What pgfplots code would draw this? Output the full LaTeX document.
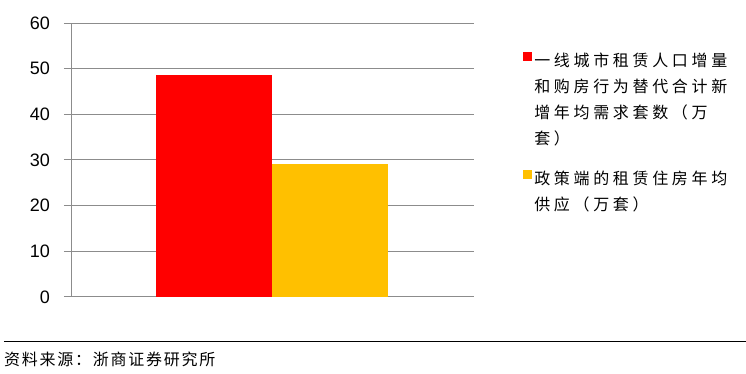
\documentclass[border=0pt]{standalone}
\usepackage{pgfplots}
\pgfplotsset{compat=1.18}
\usepackage{fontspec}
\setmainfont{Liberation Sans}
\newfontfamily\cjk{Noto Sans CJK SC}[LetterSpace=23]
\newfontfamily\cjksrc{Noto Sans CJK SC}[LetterSpace=11]
\definecolor{barred}{HTML}{FF0000}
\definecolor{baryel}{HTML}{FFC000}
\definecolor{gridgray}{HTML}{8C8C8C}
\begin{document}
\begin{tikzpicture}
\path (0,0) rectangle (746pt,374pt);
\begin{axis}[
  at={(71pt,77pt)}, anchor=south west,
  scale only axis, width=403pt, height=274pt,
  xmin=-1, xmax=1, ymin=0, ymax=60,
  ytick={0,10,...,60}, xtick=\empty,
  axis x line=bottom, axis y line=left,
  axis line style={gridgray, line width=0.9pt, -},
  ymajorgrids, grid style={gridgray, line width=0.9pt},
  tick align=outside, major tick length=7pt,
  ytick style={gridgray, line width=0.9pt},
  yticklabel style={font=\fontsize{18}{20}\selectfont, inner sep=0pt, xshift=-14pt},
  /pgf/number format/assume math mode=true,
  ybar, bar width=116pt,
  legend style={at={(1.115,0.907)}, anchor=north west, draw=none, fill=none,
    font=\cjk\fontsize{16}{26}\selectfont, row sep=21pt,
    cells={align=left, anchor=north west}},
  legend image code/.code={\fill[#1] (0pt,-10pt) rectangle (9pt,-1pt);},
]
\addplot[fill=barred, draw=none, bar shift=-58pt] coordinates {(0,48.6)};
\addlegendentry{一线城市租赁人口增量\\和购房行为替代合计新\\增年均需求套数（万\\套）}
\addplot[fill=baryel, draw=none, bar shift=58pt] coordinates {(0,29.1)};
\addlegendentry{政策端的租赁住房年均\\供应（万套）}
\end{axis}
\draw[black, line width=0.8pt] (4pt,32pt) -- (746pt,32pt);
\node[anchor=west, inner sep=0pt, font=\cjksrc\fontsize{16}{18}\selectfont] at (4pt,14.5pt) {资料来源：浙商证券研究所};
\end{tikzpicture}
\end{document}
